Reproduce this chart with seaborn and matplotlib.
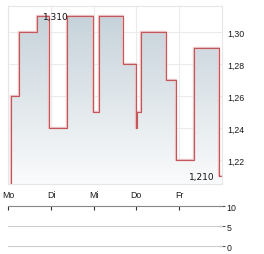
import numpy as np
import matplotlib
matplotlib.use("Agg")
import matplotlib.pyplot as plt
import seaborn as sns
import pandas as pd

# price steps (x in trading days, Mo = 0)
day_pos = [0.05, 0.063, 0.251, 0.684, 0.954, 1.375, 1.992, 2.118, 2.694,
           2.992, 3.008, 3.109, 3.688, 3.929, 4.351, 4.930, 4.995]
prices = [1.20, 1.26, 1.30, 1.31, 1.24, 1.31, 1.25, 1.31, 1.28,
          1.24, 1.25, 1.30, 1.27, 1.22, 1.29, 1.21, 1.21]

day_labels = ["Mo", "Di", "Mi", "Do", "Fr"]
price_ticks = [1.22, 1.24, 1.26, 1.28, 1.30]
volume_ticks = [0, 5, 10]

max_label = ("1,310", 1.107, 1.31)
min_label = ("1,210", 4.527, 1.21)

df = pd.DataFrame({"day": day_pos, "price": prices})

sns.set_style("white")
plt.rcParams["font.family"] = ["Liberation Sans", "DejaVu Sans"]

fig = plt.figure(figsize=(2.64, 2.55), dpi=100)
ax = fig.add_axes([0.0314, 0.2745, 0.8084, 0.6969])
vax = fig.add_axes([0.0314, 0.0302, 0.8084, 0.1569])

ylo, yhi = 1.2052, 1.3162
ax.set_xlim(0, 5)
ax.set_ylim(ylo, yhi)

# gradient area under the step line
poly = ax.fill_between(df["day"], df["price"], ylo, step="post",
                       color="none", lw=0)
grad = np.linspace(0, 1, 256).reshape(-1, 1)
cmap = matplotlib.colors.LinearSegmentedColormap.from_list(
    "g", ["#fafbfc", "#c3d0d8"])
im = ax.imshow(grad, cmap=cmap, aspect="auto", origin="lower",
               extent=[0, 5, ylo, yhi], zorder=1)
im.set_clip_path(poly.get_paths()[0], transform=ax.transData)

sns.lineplot(data=df, x="day", y="price", drawstyle="steps-post",
             estimator=None, color="#eec6c6", lw=1.7, ax=ax, zorder=2)
sns.lineplot(data=df, x="day", y="price", drawstyle="steps-post",
             estimator=None, color="#c4575a", lw=0.8, ax=ax, zorder=3)

ax.set_xlabel("")
ax.set_ylabel("")
ax.set_xticks(range(5))
ax.set_xticklabels(day_labels)
ax.set_yticks(price_ticks)
ax.set_yticklabels([f"{t:.2f}".replace(".", ",") for t in price_ticks])
ax.yaxis.tick_right()
ax.tick_params(axis="both", length=0, labelsize=6.3, colors="#1a1a1a")
ax.tick_params(axis="x", pad=4)
ax.tick_params(axis="y", pad=4)
ax.grid(True, color="#ebebeb", lw=0.8)
ax.set_axisbelow(True)
for s in ax.spines.values():
    s.set_color("#e6e6e6")
    s.set_linewidth(0.8)

for txt, x, y in [max_label, min_label]:
    ax.text(x, y, txt, ha="center", va="center", fontsize=6.5,
            family="DejaVu Sans", color="#111111", zorder=4)

# volume panel (empty)
vax.set_xlim(0, 5)
vax.set_ylim(0, 10)
vax.set_xticks(range(5))
vax.set_xticklabels([])
vax.xaxis.tick_top()
vax.tick_params(axis="x", direction="in", length=3, width=0.8, color="#333333")
vax.set_yticks(volume_ticks)
vax.yaxis.tick_right()
vax.tick_params(axis="y", direction="inout", length=5, width=0.8,
                color="#555555", labelsize=6.3, labelcolor="#1a1a1a", pad=1)
for s in vax.spines.values():
    s.set_visible(False)
for v in volume_ticks:
    vax.axhline(v, color="#888888" if v == 10 else "#cccccc", lw=0.8,
                clip_on=False)

fig.savefig("out.png", dpi=100)
